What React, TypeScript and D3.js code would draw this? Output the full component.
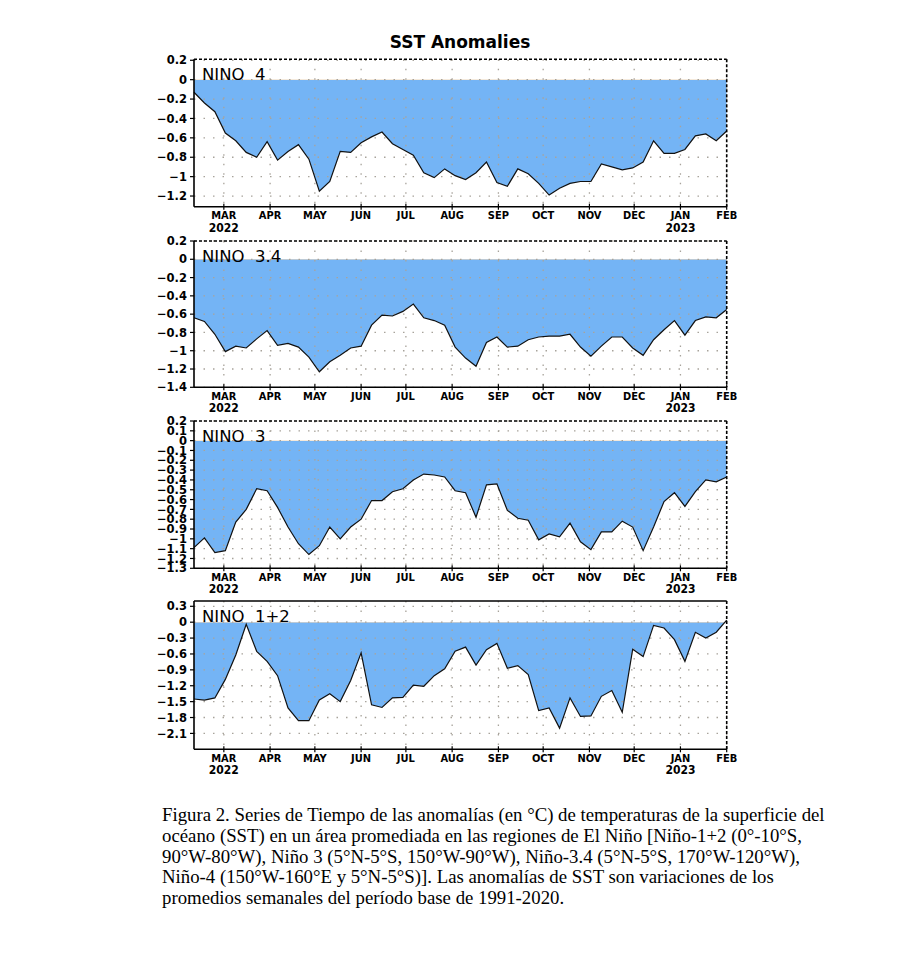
import * as React from 'react';
import * as d3 from 'd3';

// weekly SST anomalies, Feb 9 2022 .. Feb 1 2023 (52 weeks)
const startDate = new Date(2022, 1, 9);
const endDate = new Date(2023, 1, 1);

const nino4 = [
  -0.13, -0.24, -0.33, -0.55, -0.63, -0.75, -0.8, -0.64, -0.83, -0.74,
  -0.67, -0.82, -1.15, -1.05, -0.74, -0.75, -0.65, -0.59, -0.54, -0.66,
  -0.72, -0.78, -0.96, -1.01, -0.92, -0.99, -1.03, -0.96, -0.85, -1.06,
  -1.1, -0.92, -0.97, -1.07, -1.19, -1.12, -1.07, -1.05, -1.05, -0.87,
  -0.9, -0.93, -0.91, -0.85, -0.63, -0.76, -0.76, -0.72, -0.58, -0.56,
  -0.63, -0.53,
];
const nino34 = [
  -0.64, -0.68, -0.82, -1.01, -0.95, -0.97, -0.87, -0.78, -0.94, -0.92,
  -0.96, -1.07, -1.23, -1.12, -1.05, -0.97, -0.95, -0.72, -0.61, -0.62,
  -0.57, -0.49, -0.64, -0.67, -0.72, -0.96, -1.08, -1.17, -0.91, -0.85,
  -0.96, -0.95, -0.88, -0.85, -0.84, -0.84, -0.82, -0.96, -1.06, -0.95,
  -0.85, -0.85, -0.97, -1.05, -0.88, -0.77, -0.67, -0.83, -0.67, -0.63,
  -0.64, -0.55,
];
const nino3 = [
  -1.09, -0.99, -1.14, -1.12, -0.83, -0.7, -0.49, -0.51, -0.68, -0.88,
  -1.05, -1.16, -1.07, -0.88, -1.0, -0.88, -0.8, -0.61, -0.61, -0.52,
  -0.49, -0.4, -0.34, -0.35, -0.37, -0.51, -0.53, -0.78, -0.45, -0.44,
  -0.71, -0.79, -0.81, -1.01, -0.95, -0.98, -0.84, -1.03, -1.11, -0.93,
  -0.93, -0.82, -0.88, -1.12, -0.88, -0.62, -0.53, -0.67, -0.52, -0.4,
  -0.42, -0.37,
];
const nino12 = [
  -1.45, -1.47, -1.43, -1.08, -0.62, -0.04, -0.55, -0.74, -1.01, -1.62,
  -1.86, -1.86, -1.47, -1.35, -1.5, -1.1, -0.58, -1.56, -1.61, -1.43,
  -1.42, -1.19, -1.21, -1.01, -0.88, -0.55, -0.47, -0.81, -0.52, -0.4,
  -0.87, -0.82, -0.99, -1.67, -1.62, -2.0, -1.43, -1.78, -1.77, -1.4,
  -1.29, -1.7, -0.51, -0.65, -0.06, -0.11, -0.33, -0.74, -0.19, -0.3,
  -0.19, 0.04,
];

const monthLabels = ['MAR', 'APR', 'MAY', 'JUN', 'JUL', 'AUG', 'SEP', 'OCT', 'NOV', 'DEC', 'JAN', 'FEB'];
const yearLabels: { [k: string]: string } = { MAR: '2022', JAN: '2023' };

const nino4Ticks = [0.2, 0, -0.2, -0.4, -0.6, -0.8, -1, -1.2];
const nino34Ticks = [0.2, 0, -0.2, -0.4, -0.6, -0.8, -1, -1.2, -1.4];
const nino3Ticks = [0.2, 0.1, 0, -0.1, -0.2, -0.3, -0.4, -0.5, -0.6, -0.7, -0.8, -0.9, -1, -1.1, -1.2, -1.3];
const nino12Ticks = [0.3, 0, -0.3, -0.6, -0.9, -1.2, -1.5, -1.8, -2.1];

const captionLines = [
  'Figura 2. Series de Tiempo de las anomalías (en °C) de temperaturas de la superficie del',
  'océano (SST) en un área promediada en las regiones de El Niño [Niño-1+2 (0°-10°S,',
  '90°W-80°W), Niño 3 (5°N-5°S, 150°W-90°W), Niño-3.4 (5°N-5°S, 170°W-120°W),',
  'Niño-4 (150°W-160°E y 5°N-5°S)]. Las anomalías de SST son variaciones de los',
  'promedios semanales del período base de 1991-2020.',
];

const panels = [
  { id: 'p1', name: 'NINO  4', values: nino4, ticks: nino4Ticks, domain: [-1.31, 0.21], top: 59.3, bottom: 206.7, dashedTop: true },
  { id: 'p2', name: 'NINO  3.4', values: nino34, ticks: nino34Ticks, domain: [-1.4, 0.2], top: 241, bottom: 387.3, dashedTop: true },
  { id: 'p3', name: 'NINO  3', values: nino3, ticks: nino3Ticks, domain: [-1.3, 0.2], top: 421, bottom: 568.3, dashedTop: true },
  { id: 'p4', name: 'NINO  1+2', values: nino12, ticks: nino12Ticks, domain: [-2.4, 0.4], top: 601, bottom: 749.3, dashedTop: false },
];

const LEFT = 194;
const RIGHT = 726.7;
const BLUE = '#74b4f5';
const ORANGE = '#f0a040';
const tickFont = '"DejaVu Sans", sans-serif';
const monthFont = '"DejaVu Sans Condensed", "DejaVu Sans", sans-serif';

const fmt = (v: number) => {
  const s = String(Math.round(v * 10) / 10);
  return s.replace('-', '\u2212');
};

function Panel({ p }) {
  const x = d3.scaleTime().domain([startDate, endDate]).range([LEFT, RIGHT]);
  const y = d3.scaleLinear().domain(p.domain).range([p.bottom, p.top]);
  const pts = p.values.map((v, i) => ({ date: d3.timeDay.offset(startDate, i * 7), v }));
  const area = d3.area<any>().x((d) => x(d.date)).y0(y(0)).y1((d) => y(d.v));
  const line = d3.line<any>().x((d) => x(d.date)).y((d) => y(d.v));
  const months = d3.timeMonth.range(new Date(2022, 2, 1), new Date(2023, 1, 2));

  return (
    <g>
      <defs>
        <clipPath id={p.id + 'below'}>
          <rect x={LEFT} y={y(0)} width={RIGHT - LEFT} height={p.bottom - y(0)} />
        </clipPath>
        <clipPath id={p.id + 'above'}>
          <rect x={LEFT} y={p.top} width={RIGHT - LEFT} height={y(0) - p.top} />
        </clipPath>
      </defs>
      <path d={area(pts)} fill={BLUE} clipPath={`url(#${p.id}below)`} />
      <path d={area(pts)} fill={ORANGE} clipPath={`url(#${p.id}above)`} />
      {/* dotted grid */}
      {p.ticks.map((t) => (
        <line key={'h' + t} x1={LEFT} x2={RIGHT} y1={y(t)} y2={y(t)}
          stroke="#a8a39b" strokeWidth={1.3} strokeDasharray="1.5,8" />
      ))}
      {months.map((m, i) => (
        <line key={'v' + i} x1={x(m)} x2={x(m)} y1={p.top} y2={p.bottom}
          stroke="#a8a39b" strokeWidth={1.3} strokeDasharray="1.5,8" />
      ))}
      <path d={line(pts)} fill="none" stroke="#111" strokeWidth={1.2} />
      {/* frame */}
      <line x1={LEFT} x2={RIGHT} y1={p.top} y2={p.top} stroke="#000" strokeWidth={1.6}
        strokeDasharray={p.dashedTop ? '3,2' : undefined} />
      <line x1={RIGHT} x2={RIGHT} y1={p.top} y2={p.bottom} stroke="#000" strokeWidth={1.6} strokeDasharray="3,2" />
      <line x1={LEFT} x2={LEFT} y1={p.top} y2={p.bottom} stroke="#000" strokeWidth={1.6} />
      <line x1={LEFT} x2={RIGHT} y1={p.bottom} y2={p.bottom} stroke="#000" strokeWidth={1.6} />
      {/* y axis */}
      {p.ticks.map((t) => (
        <g key={'yt' + t}>
          <line x1={LEFT - 4} x2={LEFT} y1={y(t)} y2={y(t)} stroke="#000" strokeWidth={1.2} />
          <text x={LEFT - 7} y={y(t)} dy="0.36em" textAnchor="end" fontFamily={tickFont}
            fontWeight="bold" fontSize={11.5}>{fmt(t)}</text>
        </g>
      ))}
      {/* x axis */}
      {months.map((m, i) => (
        <g key={'xt' + i}>
          <line x1={x(m)} x2={x(m)} y1={p.bottom - 3} y2={p.bottom + 3} stroke="#000" strokeWidth={1.2} />
          <text x={x(m)} y={p.bottom + 12.5} textAnchor="middle" fontFamily={monthFont}
            fontWeight="bold" fontSize={11}>{monthLabels[i]}</text>
          {yearLabels[monthLabels[i]] && (
            <text x={x(m)} y={p.bottom + 25} textAnchor="middle" fontFamily={monthFont}
              fontWeight="bold" fontSize={12}>{yearLabels[monthLabels[i]]}</text>
          )}
        </g>
      ))}
      <text x={LEFT + 8} y={p.top + 21} fontFamily={tickFont} fontSize={16.5}
        style={{ whiteSpace: 'pre' }}>{p.name}</text>
    </g>
  );
}

export default function App() {
  return (
    <svg width={921} height={953} style={{ position: 'absolute', left: 0, top: 0, background: '#fff' }}>
      <rect width={921} height={953} fill="#fff" />
      <text x={460} y={48} textAnchor="middle" fontFamily={tickFont} fontWeight="bold" fontSize={17}>
        SST Anomalies
      </text>
      {panels.map((p) => (
        <Panel key={p.id} p={p} />
      ))}
      {captionLines.map((l, i) => (
        <text key={i} x={162} y={821 + i * 20.8} fontFamily='"Liberation Serif", "Times New Roman", serif'
          fontSize={18.8}>{l}</text>
      ))}
    </svg>
  );
}
